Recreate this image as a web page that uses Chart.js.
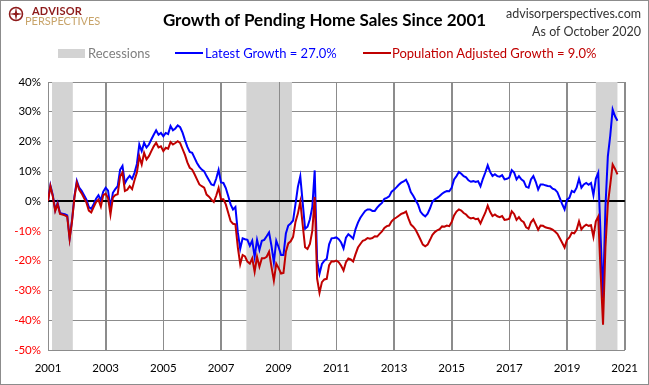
<!DOCTYPE html>
<html lang="en">
<head>
<meta charset="UTF-8">
<title>Growth of Pending Home Sales Since 2001</title>
<script src="https://cdn.jsdelivr.net/npm/chart.js"></script>
<style>
  body { margin: 0; background: #fff; }
  #wrap { position: relative; width: 649px; height: 385px; overflow: hidden; font-family: Lato, "Open Sans", sans-serif; }
  #chart { position: absolute; left: 0; top: 0; }
  #frame { position: absolute; left: 0; top: 0; width: 649px; height: 385px; box-sizing: border-box; border: 1px solid #8c8c8c; pointer-events: none; }
  .abs { position: absolute; white-space: nowrap; }
  #title { left: 0; width: 649px; top: 9px; text-align: center; font-weight: bold; font-size: 17px; color: #000; }
  #site { right: 8px; top: 5px; font-size: 12.5px; color: #333; text-align: right; line-height: 18px; }
  #logo1 { left: 32px; top: 4px; font-size: 11px; font-weight: bold; color: #8e1b1b; letter-spacing: 0.2px; }
  #logo2 { left: 25px; top: 14px; font-size: 11px; color: #c8a46a; }
  .leg { top: 45px; font-size: 13px; }
  .swatch { position: absolute; }
</style>
</head>
<body>
<div id="wrap">
  <canvas id="chart" width="649" height="385"></canvas>
  <svg class="abs" style="left:8px;top:6px" width="16" height="16" viewBox="0 0 16 16">
    <circle cx="8" cy="8" r="6.5" fill="none" stroke="#8e1b1b" stroke-width="1.5"/>
    <path d="M8 1 L9.3 8 L8 15 L6.7 8 Z M1 8 L8 6.7 L15 8 L8 9.3 Z" fill="#8e1b1b"/>
  </svg>
  <div id="logo1" class="abs">ADVISOR</div>
  <div id="logo2" class="abs">PERSPECTIVES</div>
  <div id="title" class="abs">Growth of Pending Home Sales Since 2001</div>
  <div id="site" class="abs">advisorperspectives.com<br>As of October 2020</div>

  <div class="swatch" style="left:58px;top:49px;width:27px;height:9px;background:#d3d3d3"></div>
  <div class="abs leg" style="left:88px;color:#7f7f7f">Recessions</div>
  <div class="swatch" style="left:175px;top:52px;width:28px;height:2px;background:#0000ff"></div>
  <div class="abs leg" style="left:205px;color:#0000ff">Latest Growth = 27.0%</div>
  <div class="swatch" style="left:363px;top:52px;width:28px;height:2px;background:#c00000"></div>
  <div class="abs leg" style="left:392px;color:#c00000">Population Adjusted Growth = 9.0%</div>
  <div id="frame"></div>
</div>

<script>
  // monthly series, Jan 2001 .. Oct 2020 (% growth since 2001)
  const startYear = 2001;

  const latestGrowth = [
    0.0, 5.3, 2.0, -3.0, -0.6, -4.0, -4.2, -4.4, -4.8, -12.4, -6.4, 1.7,        // 2001
    6.8, 4.5, 3.5, 2.0, 0.5, -2.0, -2.6, -1.0, 0.8, 2.0, 0.3, 3.2,              // 2002
    4.5, 3.5, -2.3, 2.8, 4.0, 5.0, 10.5, 11.8, 6.0, 7.5, 8.5, 7.5,              // 2003
    9.5, 12.5, 19.0, 16.8, 19.6, 18.0, 19.0, 20.7, 22.3, 23.8, 22.3, 22.9,      // 2004
    21.8, 22.9, 22.5, 25.2, 23.8, 24.4, 25.4, 24.8, 23.0, 20.5, 18.2, 16.5,     // 2005
    16.2, 14.5, 12.8, 11.5, 10.6, 10.0, 8.4, 7.0, 5.6, 5.3, 7.5, 10.5,          // 2006
    6.3, 6.1, 4.4, 1.7, -1.1, -2.8, -2.0, -10.5, -16.0, -12.5, -12.8, -13.0,    // 2007
    -15.0, -13.3, -18.7, -13.0, -16.4, -13.3, -13.0, -11.8, -10.5, -15.0, -20.6, -13.3, // 2008
    -15.5, -18.1, -18.1, -10.9, -8.2, -7.5, -6.5, -1.0, 4.8, 8.3, -0.5, -9.3,   // 2009
    -8.6, -6.1, -2.0, 10.3, -20.0, -24.4, -21.1, -20.0, -19.4, -14.5, -12.5, -12.4, // 2010
    -12.2, -12.8, -13.9, -15.9, -12.3, -11.1, -11.8, -12.6, -9.4, -7.2, -5.6, -4.4, // 2011
    -3.3, -2.8, -2.8, -3.3, -3.3, -2.2, -1.3, -0.6, 0.8, 1.1, 1.6, 3.2,         // 2012
    3.8, 4.6, 5.5, 6.2, 6.6, 7.2, 5.5, 3.0, 1.8, 0.3, -1.1, -3.5,               // 2013
    -4.5, -5.1, -4.2, -2.4, -0.2, 0.6, 1.1, 1.7, 2.5, 3.0, 3.4, 3.3,            // 2014
    4.5, 7.3, 8.4, 9.8, 9.2, 8.4, 8.0, 7.0, 6.5, 6.7, 6.4, 6.7,                 // 2015
    5.0, 7.5, 9.6, 12.0, 9.8, 8.4, 9.0, 8.4, 8.2, 8.7, 7.3, 7.5,                // 2016
    7.9, 10.4, 9.6, 7.3, 8.4, 7.3, 6.7, 4.8, 4.5, 7.3, 8.4, 6.5,                // 2017
    3.9, 5.6, 5.6, 5.3, 5.1, 5.0, 4.2, 3.9, 3.0, 1.0, -1.0, -2.8,               // 2018
    0.5, 1.1, 3.4, 3.0, 4.5, 7.5, 4.5, 5.6, 6.1, 5.5, 6.1, 2.0,                 // 2019
    7.5, 9.5, -12.0, -32.5, -2.0, 15.0, 22.0, 30.8, 28.5, 27.0                  // 2020
  ];

  const popAdjusted = [
    0.0, 5.0, 1.6, -3.3, -1.0, -4.3, -4.5, -4.8, -5.2, -12.7, -6.8, 1.2,        // 2001
    6.2, 3.8, 2.6, 1.0, -0.5, -3.2, -3.8, -2.0, -0.3, 0.5, -1.8, 2.0,           // 2002
    2.5, 1.0, -4.5, 1.2, 2.0, 2.3, 8.3, 9.6, 3.4, 3.8, 5.0, 4.0,                // 2003
    7.0, 9.6, 15.0, 12.3, 16.2, 14.0, 15.1, 16.8, 18.4, 19.6, 18.0, 18.4,       // 2004
    16.8, 17.9, 17.6, 19.8, 19.0, 19.5, 20.1, 19.5, 17.5, 15.5, 13.0, 11.2,     // 2005
    10.6, 9.0, 7.3, 5.6, 5.0, 4.5, 2.2, 1.5, 0.5, -0.3, 1.8, 4.4,               // 2006
    0.6, 0.6, -1.1, -3.9, -6.7, -7.6, -7.8, -15.5, -21.2, -18.1, -18.6, -20.3,  // 2007
    -21.0, -19.2, -23.7, -18.7, -22.0, -19.2, -19.2, -18.7, -17.0, -22.0, -26.7, -21.0, // 2008
    -22.5, -24.3, -24.1, -17.0, -14.2, -13.5, -12.0, -7.0, -4.2, -0.2, -8.0, -15.5, // 2009
    -16.1, -14.4, -10.0, 1.4, -26.0, -30.8, -27.2, -26.3, -26.1, -21.5, -20.2, -20.3, // 2010
    -20.0, -20.5, -21.7, -23.3, -20.5, -19.3, -19.6, -20.3, -17.8, -15.6, -14.4, -13.3, // 2011
    -13.0, -12.4, -12.6, -12.4, -11.8, -11.9, -11.0, -10.2, -9.0, -8.4, -8.2, -6.8, // 2012
    -6.0, -5.5, -4.9, -4.3, -4.0, -3.5, -5.8, -7.8, -8.6, -9.6, -11.2, -12.9,   // 2013
    -14.6, -15.2, -14.6, -13.0, -11.3, -10.4, -9.8, -9.4, -8.5, -8.6, -8.2, -8.4, // 2014
    -7.0, -4.8, -3.5, -2.8, -3.2, -4.0, -4.5, -5.4, -5.8, -5.6, -6.1, -5.9,     // 2015
    -7.5, -5.6, -3.9, -1.5, -3.6, -5.0, -4.5, -5.1, -5.4, -5.0, -6.3, -6.2,     // 2016
    -5.9, -3.4, -4.3, -6.3, -5.4, -6.5, -7.1, -8.8, -9.3, -7.1, -6.1, -7.8,     // 2017
    -9.6, -8.2, -8.3, -8.8, -9.0, -9.2, -9.6, -10.2, -11.0, -12.5, -14.0, -15.6, // 2018
    -13.0, -12.2, -10.6, -10.8, -9.6, -6.8, -9.5, -8.5, -7.9, -8.3, -8.1, -12.0, // 2019
    -6.8, -5.2, -24.0, -41.5, -15.5, -1.0, 5.5, 12.3, 10.8, 9.0                 // 2020
  ];

  // recession periods as decimal years
  const recessions = [[2001.14, 2001.86], [2007.88, 2009.46], [2020.0, 2020.75]];

  const xTicks = [2001, 2003, 2005, 2007, 2009, 2011, 2013, 2015, 2017, 2019, 2021];
  const yTicks = [40, 30, 20, 10, 0, -10, -20, -30, -40, -50];

  const toPoints = arr => arr.map((v, i) => ({ x: startYear + i / 12, y: v }));

  const recessionShade = {
    id: 'recessionShade',
    beforeDatasetsDraw(chart) {
      const { ctx, chartArea, scales } = chart;
      ctx.save();
      ctx.fillStyle = '#d3d3d3';
      recessions.forEach(([a, b]) => {
        const x1 = scales.x.getPixelForValue(a);
        const x2 = scales.x.getPixelForValue(b);
        ctx.fillRect(x1, chartArea.top, x2 - x1, chartArea.bottom - chartArea.top);
      });
      // year gridlines stay visible through the shading
      ctx.strokeStyle = '#8c8c8c';
      ctx.lineWidth = 1;
      xTicks.forEach(v => {
        const x = Math.round(scales.x.getPixelForValue(v)) + 0.5;
        ctx.beginPath();
        ctx.moveTo(x, chartArea.top);
        ctx.lineTo(x, chartArea.bottom);
        ctx.stroke();
      });
      // zero line sits on top of the shading
      const y0 = scales.y.getPixelForValue(0);
      ctx.strokeStyle = '#000';
      ctx.lineWidth = 2;
      ctx.beginPath();
      ctx.moveTo(chartArea.left, y0);
      ctx.lineTo(chartArea.right, y0);
      ctx.stroke();
      ctx.restore();
    }
  };

  new Chart(document.getElementById('chart'), {
    type: 'line',
    data: {
      datasets: [
        {
          label: 'Population Adjusted Growth',
          data: toPoints(popAdjusted),
          borderColor: '#c00000',
          borderWidth: 2,
          pointRadius: 0,
          order: 1
        },
        {
          label: 'Latest Growth',
          data: toPoints(latestGrowth),
          borderColor: '#0000ff',
          borderWidth: 2,
          pointRadius: 0,
          order: 2
        }
      ]
    },
    options: {
      responsive: false,
      animation: false,
      layout: { padding: { top: 82, right: 17, left: 0, bottom: 0 } },
      plugins: { legend: { display: false }, tooltip: { enabled: false } },
      scales: {
        x: {
          type: 'linear',
          min: 2001,
          max: 2021,
          afterBuildTicks: s => { s.ticks = xTicks.map(v => ({ value: v })); },
          afterFit: s => { s.height = 35; },
          ticks: {
            callback: v => String(v),
            color: '#000',
            font: { family: 'Lato', size: 11.5 },
            padding: 11,
            maxRotation: 0
          },
          grid: { color: '#8c8c8c', drawTicks: false },
          border: { color: '#8c8c8c' }
        },
        y: {
          min: -50,
          max: 40,
          afterBuildTicks: s => { s.ticks = yTicks.map(v => ({ value: v })); },
          afterFit: s => { s.width = 48; },
          ticks: {
            callback: v => v + '%',
            color: ctx => ctx.tick.value < 0 ? '#ff0000' : '#000',
            font: { family: 'Lato', size: 11.5 },
            padding: 7
          },
          grid: {
            color: ctx => ctx.tick.value === 0 ? '#000' : '#8c8c8c',
            lineWidth: ctx => ctx.tick.value === 0 ? 2 : 1,
            drawTicks: false
          },
          border: { color: '#8c8c8c' }
        }
      }
    },
    plugins: [recessionShade]
  });
</script>
</body>
</html>
